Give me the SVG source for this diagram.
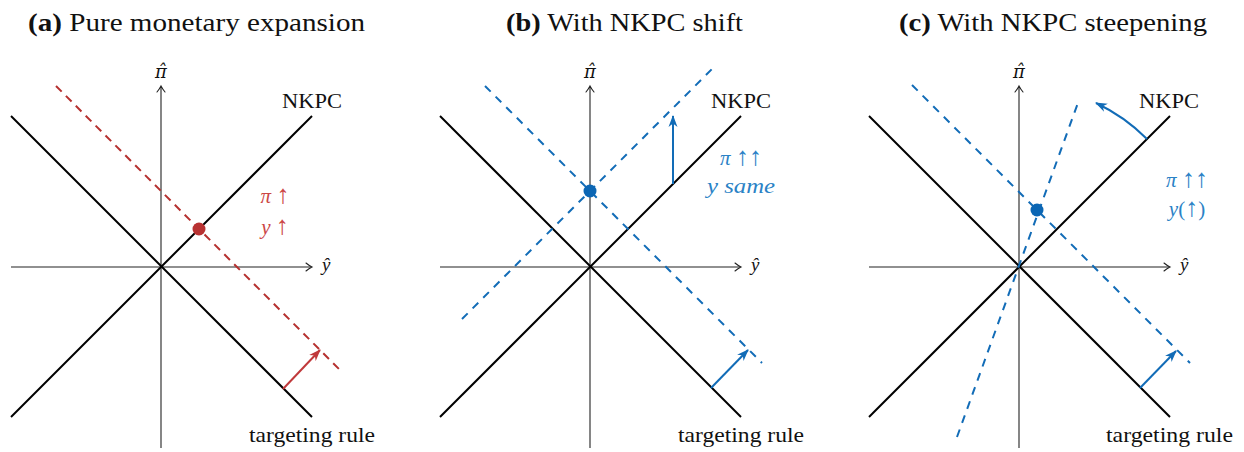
<svg xmlns="http://www.w3.org/2000/svg" width="1244" height="452" viewBox="0 0 1244 452">
<style>
.title{font-family:"Liberation Serif",serif;font-size:25px;fill:#111}
.title .b{font-weight:bold}
.lbl{font-family:"Liberation Serif",serif;font-size:22px;fill:#111}
.math{font-family:"Liberation Serif",serif;font-size:21px;font-style:italic}
.arw{font-family:"Liberation Serif",serif;font-style:normal;font-size:26px}
.ax{font-family:"Liberation Serif",serif;font-size:19px;font-style:italic;fill:#111}
.axp{font-family:"DejaVu Serif",serif;font-size:18px;font-style:italic;fill:#111}
.axis{stroke:#222;stroke-width:1.1;fill:none}
.head{stroke:#222;stroke-width:1.1;fill:none;stroke-linecap:round}
.solid{stroke:#000;stroke-width:2;fill:none}
.rdash{stroke:#b5302f;stroke-width:2;fill:none;stroke-dasharray:8 6}
.bdash{stroke:#126cb7;stroke-width:2;fill:none;stroke-dasharray:8 7}
.rarr{stroke:#c0393b;stroke-width:2;fill:none}
.barr{stroke:#126cb7;stroke-width:2;fill:none}
.red{fill:#cc4646}
.blue{fill:#2a82c6}
</style>
<defs>
<marker id="mr" viewBox="0 0 12 10" refX="11" refY="5" markerWidth="12" markerHeight="10" markerUnits="userSpaceOnUse" orient="auto">
<path d="M0,0.5 L12,5 L0,9.5 L3.5,5 Z" fill="#c0393b"/>
</marker>
<marker id="mb" viewBox="0 0 12 10" refX="11" refY="5" markerWidth="12" markerHeight="10" markerUnits="userSpaceOnUse" orient="auto">
<path d="M0,0.5 L12,5 L0,9.5 L3.5,5 Z" fill="#126cb7"/>
</marker>
</defs>
<rect width="1244" height="452" fill="#fff"/>

<!-- Panel titles -->
<text id="title-a" class="title" x="28" y="31" textLength="337" lengthAdjust="spacingAndGlyphs"><tspan class="b">(a)</tspan> Pure monetary expansion</text>
<text id="title-b" class="title" x="506" y="31" textLength="237" lengthAdjust="spacingAndGlyphs"><tspan class="b">(b)</tspan> With NKPC shift</text>
<text id="title-c" class="title" x="899" y="31" textLength="308" lengthAdjust="spacingAndGlyphs"><tspan class="b">(c)</tspan> With NKPC steepening</text>

<!-- Panel A -->
<g id="panel-a">
<g id="axes-a">
<line class="axis" x1="11" y1="267" x2="311" y2="267"/>
<path class="head" d="M306,263 Q309,265.5 312,267 Q309,268.5 306,271"/>
<line class="axis" x1="161" y1="448" x2="161" y2="87"/>
<path class="head" d="M157,92 Q159.5,89 161,86 Q162.5,89 165,92"/>
<text class="axp" x="161" y="78" text-anchor="middle">π̂</text>
<text class="ax" x="322" y="271">ŷ</text>
</g>
<g id="nkpc-a">
<line class="solid" x1="11" y1="417" x2="312" y2="116"/>
<text class="lbl" x="282" y="108" textLength="60" lengthAdjust="spacingAndGlyphs">NKPC</text>
</g>
<g id="rule-a">
<line class="solid" x1="11" y1="116" x2="312" y2="417"/>
<text class="lbl" x="249" y="442" textLength="126" lengthAdjust="spacingAndGlyphs">targeting rule</text>
</g>
<g id="shift-a">
<line class="rdash" x1="56" y1="86" x2="343" y2="373"/>
</g>
<g id="eq-a">
<circle cx="199" cy="229" r="6.5" fill="#b83232"/>
</g>
<g id="note-a">
<text class="math red" x="275" y="203" text-anchor="middle">π <tspan class="arw">↑</tspan></text>
<text class="math red" x="275" y="234" text-anchor="middle">y <tspan class="arw">↑</tspan></text>
</g>
</g>

<!-- Panel B -->
<g id="panel-b">
<g id="axes-b">
<line class="axis" x1="440" y1="267" x2="740" y2="267"/>
<path class="head" d="M735,263 Q738,265.5 741,267 Q738,268.5 735,271"/>
<line class="axis" x1="590" y1="448" x2="590" y2="87"/>
<path class="head" d="M586,92 Q588.5,89 590,86 Q591.5,89 594,92"/>
<text class="axp" x="590" y="78" text-anchor="middle">π̂</text>
<text class="ax" x="751" y="271">ŷ</text>
</g>
<g id="nkpc-b">
<line class="solid" x1="440" y1="417" x2="741" y2="116"/>
<text class="lbl" x="711" y="108" textLength="60" lengthAdjust="spacingAndGlyphs">NKPC</text>
</g>
<g id="rule-b">
<line class="solid" x1="440" y1="116" x2="741" y2="417"/>
<text class="lbl" x="678" y="442" textLength="126" lengthAdjust="spacingAndGlyphs">targeting rule</text>
</g>
<g id="nkpc-shift-b">
<line class="bdash" x1="462" y1="319" x2="716" y2="65"/>
</g>
<g id="rule-shift-b">
<line class="bdash" x1="485" y1="86" x2="762" y2="363"/>
</g>
<g id="eq-b">
<circle cx="590" cy="191" r="6.5" fill="#0b66b4"/>
</g>
<g id="note-b">
<text class="math blue" x="741" y="165" text-anchor="middle">π <tspan class="arw">↑↑</tspan></text>
<text class="math blue" x="741" y="193" text-anchor="middle" textLength="68" lengthAdjust="spacingAndGlyphs">y same</text>
</g>
</g>

<!-- Panel C -->
<g id="panel-c">
<g id="axes-c">
<line class="axis" x1="869" y1="267" x2="1169" y2="267"/>
<path class="head" d="M1164,263 Q1167,265.5 1170,267 Q1167,268.5 1164,271"/>
<line class="axis" x1="1019" y1="448" x2="1019" y2="87"/>
<path class="head" d="M1015,92 Q1017.5,89 1019,86 Q1020.5,89 1023,92"/>
<text class="axp" x="1019" y="78" text-anchor="middle">π̂</text>
<text class="ax" x="1180" y="271">ŷ</text>
</g>
<g id="nkpc-c">
<line class="solid" x1="869" y1="417" x2="1170" y2="116"/>
<text class="lbl" x="1139" y="108" textLength="60" lengthAdjust="spacingAndGlyphs">NKPC</text>
</g>
<g id="rule-c">
<line class="solid" x1="869" y1="116" x2="1170" y2="417"/>
<text class="lbl" x="1106" y="442" textLength="127" lengthAdjust="spacingAndGlyphs">targeting rule</text>
</g>
<g id="nkpc-steep-c">
<line class="bdash" x1="957" y1="437" x2="1079" y2="100"/>
</g>
<g id="rule-shift-c">
<line class="bdash" x1="912" y1="85" x2="1190" y2="363"/>
</g>
<g id="eq-c">
<circle cx="1037" cy="210" r="6.5" fill="#0b66b4"/>
</g>
<g id="note-c">
<text class="math blue" x="1187" y="187" text-anchor="middle">π <tspan class="arw">↑↑</tspan></text>
<text class="math blue" x="1187" y="216" text-anchor="middle">y<tspan font-style="normal">(</tspan><tspan class="arw">↑</tspan><tspan font-style="normal">)</tspan></text>
</g>
</g>

<!-- Connectors -->
<g id="connectors">
<line class="rarr" x1="283" y1="389" x2="320" y2="350" marker-end="url(#mr)"/>
<line class="barr" x1="673" y1="184" x2="673" y2="116" marker-end="url(#mb)"/>
<line class="barr" x1="711" y1="388" x2="748" y2="350" marker-end="url(#mb)"/>
<line class="barr" x1="1140" y1="388" x2="1176" y2="351" marker-end="url(#mb)"/>
<path class="barr" d="M1147,139 A181,181 0 0 0 1096,103" marker-end="url(#mb)"/>
</g>
</svg>
